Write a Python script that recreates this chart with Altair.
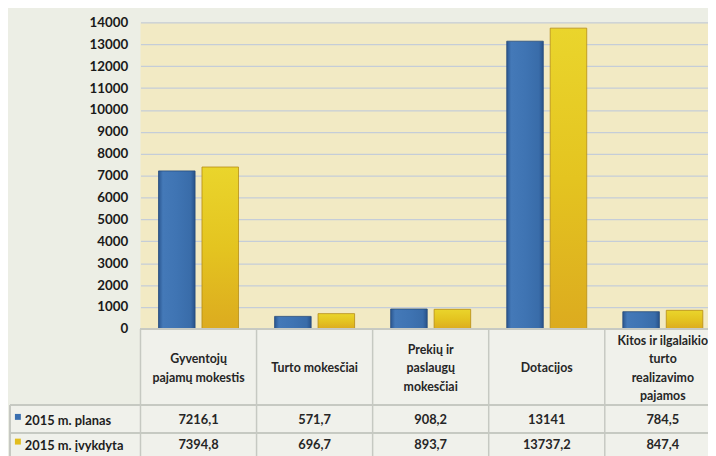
import altair as alt
import pandas as pd

# ---- data ----
categories = [
    "Gyventojų pajamų mokestis",
    "Turto mokesčiai",
    "Prekių ir paslaugų mokesčiai",
    "Dotacijos",
    "Kitos ir ilgalaikio turto realizavimo pajamos",
]
header_labels = [
    "Gyventojų\npajamų mokestis",
    "Turto mokesčiai",
    "Prekių ir\npaslaugų\nmokesčiai",
    "Dotacijos",
    "Kitos ir ilgalaikio\nturto\nrealizavimo\npajamos",
]
series = ["2015 m. planas", "2015 m. įvykdyta"]
planas = [7216.1, 571.7, 908.2, 13141, 784.5]
ivykdyta = [7394.8, 696.7, 893.7, 13737.2, 847.4]
y_ticks = list(range(0, 15000, 1000))


def fmt(v):
    return f"{v:g}".replace(".", ",")


rows = []
for s, vals in zip(series, [planas, ivykdyta]):
    for c, v in zip(categories, vals):
        rows.append({"cat": c, "series": s, "value": v, "label": fmt(v)})
df = pd.DataFrame(rows)
hdr = pd.DataFrame({
    "cat": categories,
    "hdr": header_labels,
    "nlines": [h.count("\n") + 1 for h in header_labels],
})
leg = pd.DataFrame({"series": series})

FONT = "Lato"
W, H = 574, 310
LH = 18.5
HDR_MID = 350

X = alt.X(
    "cat:N",
    sort=categories,
    scale=alt.Scale(domain=categories, range=[0, 587], paddingInner=0, paddingOuter=0),
    axis=None,
)
XC = alt.X("cat:N", sort=categories, bandPosition=0.5, axis=None)
XO = alt.XOffset(
    "series:N",
    sort=series,
    scale=alt.Scale(domain=series, paddingInner=0.159, paddingOuter=0.415),
)
Y = alt.Y(
    "value:Q",
    scale=alt.Scale(domain=[0, 14000], nice=False),
    axis=alt.Axis(
        values=y_ticks, format="d", title=None, domain=False, ticks=False,
        labelPadding=13, labelFont=FONT, labelFontWeight="bold", labelFontSize=13.5,
        labelColor="#1a1a1a", gridColor="#c5cdd8", gridWidth=1.2,
    ),
)

blue_grad = alt.Gradient(
    gradient="linear", x1=0, x2=1, y1=0, y2=0,
    stops=[
        alt.GradientStop(color="#2b5790", offset=0),
        alt.GradientStop(color="#4479b8", offset=0.12),
        alt.GradientStop(color="#3f74b3", offset=0.5),
        alt.GradientStop(color="#396ca9", offset=0.88),
        alt.GradientStop(color="#28528a", offset=1),
    ],
)
yellow_grad = alt.Gradient(
    gradient="linear", x1=0, x2=0, y1=0, y2=1,
    stops=[
        alt.GradientStop(color="#ead52c", offset=0),
        alt.GradientStop(color="#e4c420", offset=0.5),
        alt.GradientStop(color="#dcab1f", offset=1),
    ],
)

base = alt.Chart(df)

bars_blue = base.transform_filter(alt.datum.series == series[0]).mark_bar(
    color=blue_grad, stroke="#25497a", strokeWidth=0.8
).encode(x=X, xOffset=XO, y=Y)
bars_yellow = base.transform_filter(alt.datum.series == series[1]).mark_bar(
    color=yellow_grad, stroke="#b68c14", strokeWidth=0.8
).encode(x=X, xOffset=XO, y=Y)

TABLE_BG = "#f0f1eb"
LINE = "#c6c9c2"

# table backgrounds
table_bg = base.mark_rect(color=TABLE_BG).encode(
    x=alt.value(0), x2=alt.value(W), y=alt.value(H), y2=alt.value(440)
)
left_bg = base.mark_rect(color=TABLE_BG).encode(
    x=alt.value(-132), x2=alt.value(0), y=alt.value(387), y2=alt.value(440)
)

# table lines
top_line = base.mark_rule(color=LINE, strokeWidth=1).encode(
    x=alt.value(0), x2=alt.value(W), y=alt.value(H)
)
row_line1 = base.mark_rule(color=LINE, strokeWidth=1.5).encode(
    x=alt.value(-132), x2=alt.value(W), y=alt.value(387)
)
row_line2 = base.mark_rule(color=LINE, strokeWidth=1.5).encode(
    x=alt.value(-132), x2=alt.value(W), y=alt.value(415)
)
left_line = base.mark_rule(color=LINE, strokeWidth=1.5).encode(
    x=alt.value(-132), y=alt.value(387), y2=alt.value(440)
)
col_lines = alt.Chart(hdr).mark_rule(color=LINE, strokeWidth=1.5).encode(
    x=alt.X("cat:N", sort=categories, bandPosition=0, axis=None),
    y=alt.value(H), y2=alt.value(440),
)

# header text: one layer per line count so the block is vertically centred
hdr_layers = []
for n in sorted(set(hdr["nlines"])):
    hdr_layers.append(
        alt.Chart(hdr).transform_filter(alt.datum.nlines == n).mark_text(
            font=FONT, fontWeight="bold", fontSize=12.5, color="#262626",
            lineBreak="\n", lineHeight=LH, baseline="middle", align="center",
        ).encode(x=XC, y=alt.value(HDR_MID - (n - 1) * LH / 2), text="hdr:N")
    )

val_text1 = base.transform_filter(alt.datum.series == series[0]).mark_text(
    font=FONT, fontWeight="bold", fontSize=13, color="#262626", baseline="middle"
).encode(x=XC, y=alt.value(402), text="label:N")
val_text2 = base.transform_filter(alt.datum.series == series[1]).mark_text(
    font=FONT, fontWeight="bold", fontSize=13, color="#262626", baseline="middle"
).encode(x=XC, y=alt.value(427), text="label:N")

# row labels with legend squares
leg_text1 = alt.Chart(leg).transform_filter(alt.datum.series == series[0]).mark_text(
    font=FONT, fontWeight="bold", fontSize=13, color="#1e1e1e", baseline="middle", align="left"
).encode(x=alt.value(-117), y=alt.value(403), text="series:N")
leg_text2 = alt.Chart(leg).transform_filter(alt.datum.series == series[1]).mark_text(
    font=FONT, fontWeight="bold", fontSize=13, color="#1e1e1e", baseline="middle", align="left"
).encode(x=alt.value(-117), y=alt.value(428), text="series:N")
leg_sq1 = alt.Chart(leg).transform_filter(alt.datum.series == series[0]).mark_rect(
    color="#3a6fb0"
).encode(x=alt.value(-127), x2=alt.value(-121), y=alt.value(396), y2=alt.value(402))
leg_sq2 = alt.Chart(leg).transform_filter(alt.datum.series == series[1]).mark_rect(
    color="#e2bd1e"
).encode(x=alt.value(-127), x2=alt.value(-121), y=alt.value(421), y2=alt.value(427))

chart = alt.layer(
    table_bg, left_bg, bars_blue, bars_yellow,
    top_line, row_line1, row_line2, left_line, col_lines,
    *hdr_layers, val_text1, val_text2,
    leg_sq1, leg_sq2, leg_text1, leg_text2,
).properties(
    width=W, height=H,
    autosize=alt.AutoSizeParams(type="none"),
    padding={"left": 134, "top": 12, "right": 0, "bottom": 126},
    background="#eceee5",
).configure_view(
    fill="#f2eac4", stroke=None,
)

chart.save("out.html", embed_options={"renderer": "svg", "actions": False})
